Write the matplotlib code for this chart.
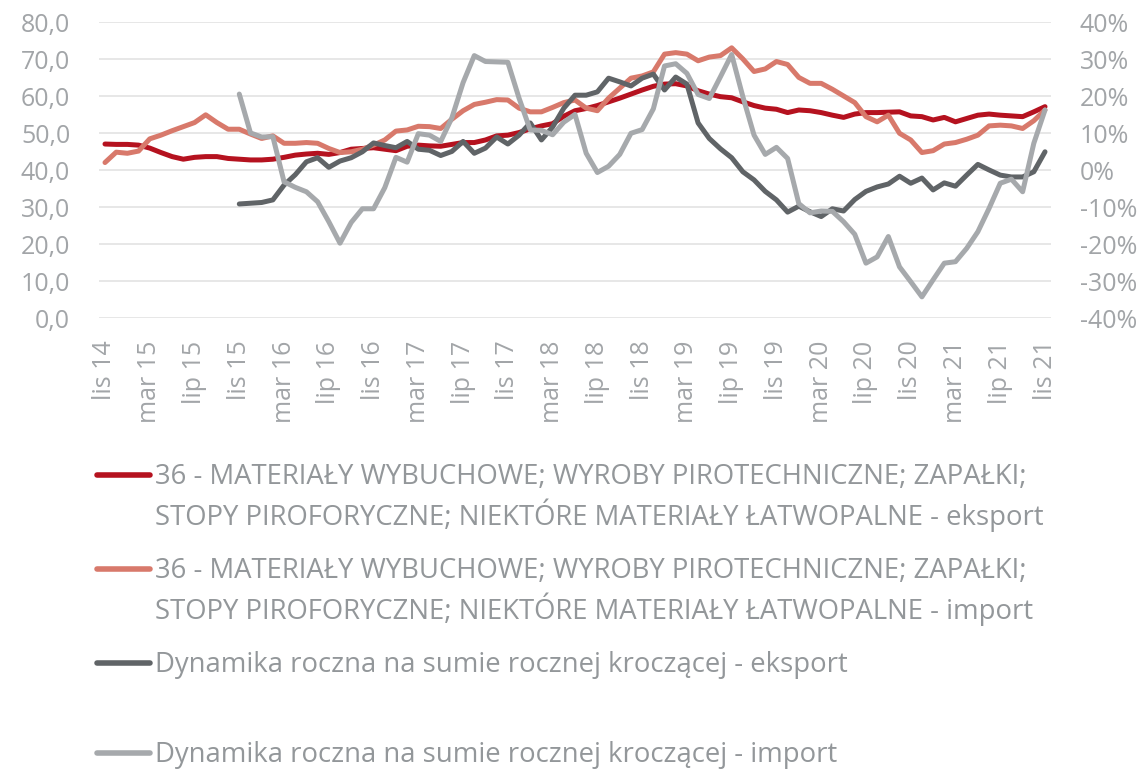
import matplotlib
matplotlib.use("Agg")
import matplotlib.pyplot as plt
from matplotlib.lines import Line2D
from matplotlib.ticker import FuncFormatter, MultipleLocator
import numpy as np

plt.rcParams['font.family'] = ['Open Sans', 'DejaVu Sans']

# Monthly series, Nov 2014 - Nov 2021
tick_labels = ["lis 14", "mar 15", "lip 15", "lis 15", "mar 16", "lip 16", "lis 16",
               "mar 17", "lip 17", "lis 17", "mar 18", "lip 18", "lis 18", "mar 19",
               "lip 19", "lis 19", "mar 20", "lip 20", "lis 20", "mar 21", "lip 21", "lis 21"]

export_value = [47.1, 47.0, 47.0, 46.8, 46.0, 44.8, 43.7, 43.0, 43.5, 43.7,
                43.7, 43.2, 43.0, 42.8, 42.8, 43.0, 43.5, 44.1, 44.4, 44.6,
                44.3, 44.8, 45.7, 45.9, 46.1, 45.7, 45.3, 46.5, 46.8, 46.6,
                46.5, 47.0, 47.5, 47.5, 48.2, 49.3, 49.5, 50.2, 51.2, 52.0,
                52.6, 54.6, 56.1, 56.7, 57.5, 58.5, 59.5, 60.6, 61.7, 62.7,
                63.3, 63.4, 62.8, 61.5, 60.6, 59.9, 59.6, 58.5, 57.5, 56.8,
                56.5, 55.6, 56.3, 56.1, 55.6, 54.9, 54.3, 55.2, 55.6, 55.6,
                55.7, 55.8, 54.7, 54.5, 53.6, 54.3, 53.1, 54.0, 54.9, 55.2,
                54.9, 54.7, 54.5, 55.8, 57.2]

import_value = [42.1, 44.9, 44.6, 45.2, 48.5, 49.5, 50.7, 51.8, 52.9, 55.0,
                52.9, 51.1, 51.1, 49.8, 48.6, 49.3, 47.3, 47.3, 47.5, 47.3,
                45.9, 44.8, 45.0, 45.7, 46.8, 48.2, 50.6, 50.9, 51.9, 51.8,
                51.3, 53.8, 56.1, 57.8, 58.4, 59.1, 59.0, 56.8, 55.8, 55.8,
                57.0, 58.3, 59.0, 56.8, 56.1, 59.5, 62.2, 64.9, 65.5, 66.6,
                71.4, 71.8, 71.4, 69.6, 70.6, 71.0, 73.1, 70.1, 66.7, 67.4,
                69.4, 68.6, 65.1, 63.5, 63.5, 61.9, 60.1, 58.3, 54.5, 53.1,
                54.9, 50.0, 48.2, 44.8, 45.3, 47.1, 47.5, 48.4, 49.5, 52.0,
                52.2, 52.0, 51.3, 53.4, 56.3]

# Year-on-year dynamics (%), available from Nov 2015
export_dyn = [None] * 12 + [
    -9.1, -8.9, -8.7, -8.0, -4.0, -1.2, 2.3, 3.4, 0.8, 2.5,
    3.4, 5.0, 7.4, 6.7, 6.1, 7.8, 5.7, 5.4, 4.0, 5.1,
    7.8, 4.6, 6.0, 9.0, 7.1, 9.5, 12.8, 8.2, 11.7, 16.8,
    20.3, 20.3, 21.2, 24.9, 23.9, 22.8, 24.9, 26.0, 21.7, 25.2,
    23.3, 12.8, 8.6, 5.8, 3.4, -0.4, -2.6, -5.7, -8.0, -11.3,
    -9.7, -11.2, -12.5, -10.4, -11.0, -7.9, -5.7, -4.5, -3.7, -1.6,
    -3.5, -2.1, -5.3, -3.4, -4.3, -1.3, 1.6, 0.1, -1.3, -1.8,
    -1.8, -0.4, 5.0]

import_dyn = [None] * 12 + [
    20.6, 10.1, 9.0, 9.1, -3.1, -4.6, -5.8, -8.5, -13.9, -19.7,
    -14.1, -10.4, -10.4, -4.7, 3.5, 2.2, 9.9, 9.5, 7.8, 14.2,
    23.7, 31.0, 29.4, 29.3, 29.2, 19.5, 10.9, 10.8, 9.6, 13.0,
    15.1, 4.6, -0.6, 1.1, 4.3, 10.0, 11.0, 16.6, 28.2, 28.8,
    26.2, 20.5, 19.4, 25.3, 31.3, 19.9, 9.5, 4.3, 6.2, 3.2,
    -9.0, -11.5, -11.0, -11.1, -13.9, -17.3, -25.1, -23.4, -17.9, -26.1,
    -30.1, -34.2, -29.6, -25.1, -24.7, -21.1, -16.6, -10.3, -3.5, -2.4,
    -5.8, 7.3, 16.3]

legend_entries = [
    ["36 - MATERIAŁY WYBUCHOWE; WYROBY PIROTECHNICZNE; ZAPAŁKI;",
     "STOPY PIROFORYCZNE; NIEKTÓRE MATERIAŁY ŁATWOPALNE - eksport"],
    ["36 - MATERIAŁY WYBUCHOWE; WYROBY PIROTECHNICZNE; ZAPAŁKI;",
     "STOPY PIROFORYCZNE; NIEKTÓRE MATERIAŁY ŁATWOPALNE - import"],
    ["Dynamika roczna na sumie rocznej kroczącej - eksport"],
    ["Dynamika roczna na sumie rocznej kroczącej - import"],
]

RED = "#B5121F"
PINK = "#D8796B"
DARK = "#606467"
LIGHT = "#A6A9AC"
TICK_COLOR = "#A2A5A8"
TEXT_COLOR = "#93979A"
GRID_COLOR = "#E5E5E5"
series_colors = [RED, PINK, DARK, LIGHT]

W, H = 1148, 769
fig = plt.figure(figsize=(W / 100, H / 100), dpi=100)
ax = fig.add_axes([99.4 / W, 1 - 318.3 / H, 951.2 / W, 296.0 / H])
ax2 = ax.twinx()

months = np.arange(len(export_value))
line_kw = dict(lw=3.6, solid_capstyle="round", solid_joinstyle="round")
ax.plot(months, export_value, color=RED, zorder=3, **line_kw)
ax.plot(months, import_value, color=PINK, zorder=4, **line_kw)
ax2.plot(months, np.array(export_dyn, dtype=float), color=DARK, zorder=3, **line_kw)
ax2.plot(months, np.array(import_dyn, dtype=float), color=LIGHT, zorder=4, **line_kw)

ax.set_xlim(-0.5, len(months) - 0.5)
ax.set_ylim(0, 80)
ax2.set_ylim(-40, 40)
ax.yaxis.set_major_locator(MultipleLocator(10))
ax2.yaxis.set_major_locator(MultipleLocator(10))
ax.yaxis.set_major_formatter(FuncFormatter(lambda v, p: f"{v:.1f}".replace(".", ",")))
ax2.yaxis.set_major_formatter(FuncFormatter(lambda v, p: f"{v:.0f}%"))

ax.set_xticks(np.arange(0, len(months), 4))
ax.set_xticklabels(tick_labels, rotation=90)

ax.grid(axis="y", color=GRID_COLOR, lw=1.3)
ax.set_axisbelow(True)
for a in (ax, ax2):
    for s in a.spines.values():
        s.set_visible(False)
ax.tick_params(axis="x", length=0, pad=16, labelsize=18, labelcolor=TICK_COLOR)
ax.tick_params(axis="y", length=0, pad=21, labelsize=18, labelcolor=TICK_COLOR)
ax2.tick_params(axis="y", length=0, pad=21, labelsize=18, labelcolor=TICK_COLOR)

# Legend drawn below the plot area; font size fitted to the text block width
renderer = fig.canvas.get_renderer()
probe = fig.text(0, 0, legend_entries[0][0], fontsize=18)
probe_w = probe.get_window_extent(renderer).width
probe.remove()
legend_size = 18 * 875.0 / probe_w

handle_y = [475, 568.5, 662.7, 753]
line_gap = 41
for color, lines, hy in zip(series_colors, legend_entries, handle_y):
    fig.add_artist(Line2D([97 / W, 150 / W], [1 - hy / H, 1 - hy / H], color=color,
                          lw=4, solid_capstyle="round", transform=fig.transFigure))
    for k, txt in enumerate(lines):
        base = hy + 9.0 + k * line_gap
        fig.text(155 / W, 1 - base / H, txt, ha="left", va="baseline",
                 fontsize=legend_size, color=TEXT_COLOR)

fig.savefig("out.png", dpi=100)
